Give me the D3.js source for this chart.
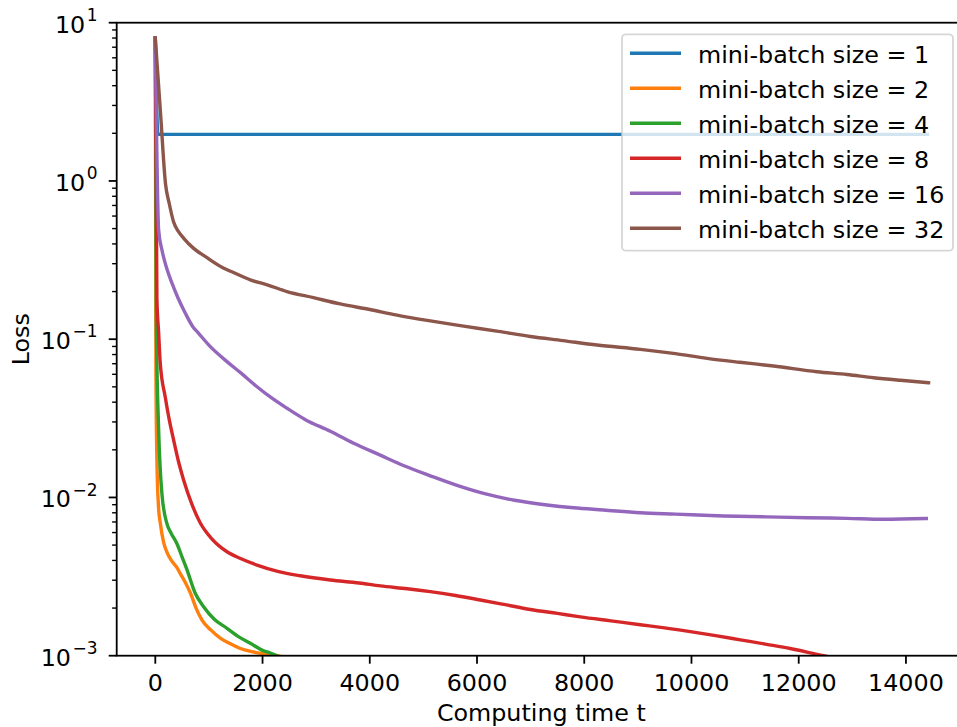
<!DOCTYPE html>
<html>
<head>
<meta charset="utf-8">
<script src="https://cdn.jsdelivr.net/npm/d3@7"></script>
<style>
  body { margin: 0; background: #fff; }
  text { font-family: "DejaVu Sans", sans-serif; fill: #000; }
</style>
</head>
<body>
<svg id="chart" width="957" height="727"></svg>
<script>
// series labels and colours (matplotlib tab10)
const labels = ['mini-batch size = 1', 'mini-batch size = 2', 'mini-batch size = 4',
  'mini-batch size = 8', 'mini-batch size = 16', 'mini-batch size = 32'];
const colors = ['#1f77b4', '#ff7f0e', '#2ca02c', '#d62728', '#9467bd', '#8c564b'];

// loss curves: [t, loss]
const size1 = [[0, 8.0], [50, 1.97], [14400, 1.97]];
const size2 = [[0, 8.0], [12, 0.06], [31, 0.0164], [62, 0.0085], [93, 0.0069], [155, 0.0052],
  [218, 0.0045], [300, 0.0040], [404, 0.0036], [466, 0.0033], [560, 0.0029], [653, 0.0025],
  [760, 0.0020], [871, 0.00168], [1040, 0.00145], [1212, 0.00129], [1400, 0.00119],
  [1585, 0.00111], [1800, 0.00106], [2000, 0.00103], [2270, 0.00100], [2500, 0.00096]];
const size4 = [[0, 8.0], [20, 0.12], [62, 0.027], [124, 0.0105], [218, 0.0068],
  [300, 0.0059], [404, 0.0051], [500, 0.0042], [590, 0.0035], [740, 0.0025], [901, 0.00204],
  [1100, 0.00170], [1337, 0.00149], [1550, 0.00132], [1772, 0.00120], [2000, 0.00108],
  [2145, 0.00104], [2400, 0.00095]];
const size8 = [[0, 8.0], [30, 0.18], [62, 0.11], [93, 0.07], [186, 0.043], [260, 0.031],
  [342, 0.023], [430, 0.017], [528, 0.0129], [680, 0.0091], [839, 0.0069], [1050, 0.0055],
  [1337, 0.00454], [1600, 0.0041], [1897, 0.00374], [2300, 0.0034], [2704, 0.0032],
  [3264, 0.00301], [3800, 0.00288], [4196, 0.00276], [4700, 0.00265], [5129, 0.00254],
  [5600, 0.00240], [6061, 0.00225], [6500, 0.00211], [6994, 0.00196], [7500, 0.00185],
  [7926, 0.00176], [8500, 0.00166], [9045, 0.00157], [9500, 0.00150], [9977, 0.00142],
  [10450, 0.00134], [10910, 0.00126], [11400, 0.00118], [11843, 0.00111], [12464, 0.00100],
  [13400, 0.00088], [14400, 0.00078]];
const size16 = [[0, 8.0], [62, 0.49], [124, 0.366], [200, 0.29], [311, 0.226], [430, 0.18],
  [560, 0.146], [700, 0.12], [808, 0.109], [1026, 0.0897], [1337, 0.0722], [1600, 0.061],
  [1897, 0.0501], [2150, 0.043], [2456, 0.0366], [2800, 0.031], [3264, 0.0262], [3700, 0.022],
  [4196, 0.0185], [4650, 0.0158], [5129, 0.0137], [5600, 0.0120], [6123, 0.0106],
  [6700, 0.0096], [7305, 0.00896], [7800, 0.0086], [8361, 0.00833], [9045, 0.00801],
  [9700, 0.00785], [10599, 0.00764], [11400, 0.00754], [12153, 0.00745], [12900, 0.00738],
  [13583, 0.00728], [14380, 0.00736]];
const size32 = [[0, 8.0], [100, 2.6], [190, 0.96], [260, 0.72], [340, 0.552], [430, 0.48],
  [530, 0.434], [715, 0.375], [950, 0.33], [1243, 0.285], [1500, 0.26], [1772, 0.237],
  [2100, 0.22], [2456, 0.200], [2950, 0.183], [3450, 0.167], [4000, 0.154], [4508, 0.142],
  [5100, 0.131], [5750, 0.121], [6400, 0.112], [6994, 0.104], [7600, 0.098], [8237, 0.0919],
  [9045, 0.0863], [9700, 0.081], [10289, 0.0757], [10900, 0.0715], [11532, 0.0677],
  [12340, 0.0623], [12900, 0.0598], [13397, 0.0571], [13900, 0.0550], [14422, 0.0531]];
const series = [size1, size2, size4, size8, size16, size32];

const xTicks = [0, 2000, 4000, 6000, 8000, 10000, 12000, 14000];
const yTicks = [-3, -2, -1, 0, 1]; // powers of ten

const svg = d3.select('#chart');

// axes box (right spine sits just past the image edge, like the original crop)
const axL = 116.7, axR = 966, axT = 22.7, axB = 655.7;
const fs = 23.8;

const x = d3.scaleLinear().domain([-720, 15120]).range([axL, axR]);
const y = d3.scaleLog().domain([1e-3, 10]).range([axB, axT]);

svg.append('defs').append('clipPath').attr('id', 'clip')
  .append('rect').attr('x', axL).attr('y', axT)
  .attr('width', axR - axL).attr('height', axB - axT);

// curves
const line = d3.line().x(d => x(d[0])).y(d => y(d[1])).curve(d3.curveMonotoneX);
const plot = svg.append('g').attr('clip-path', 'url(#clip)');
series.forEach((s, i) => {
  plot.append('path')
    .attr('d', line(s))
    .attr('fill', 'none')
    .attr('stroke', colors[i])
    .attr('stroke-width', 3.4)
    .attr('stroke-linejoin', 'round')
    .attr('stroke-linecap', 'square');
});

// spines
svg.append('rect')
  .attr('x', axL).attr('y', axT)
  .attr('width', axR - axL).attr('height', axB - axT)
  .attr('fill', 'none').attr('stroke', '#000').attr('stroke-width', 1.8);

// x axis
const xg = svg.append('g');
xTicks.forEach(t => {
  xg.append('line')
    .attr('x1', x(t)).attr('x2', x(t))
    .attr('y1', axB).attr('y2', axB + 8)
    .attr('stroke', '#000').attr('stroke-width', 1.8);
  xg.append('text')
    .attr('x', x(t)).attr('y', 691)
    .attr('text-anchor', 'middle')
    .attr('font-size', fs)
    .text(t);
});
svg.append('text')
  .attr('x', (axL + axR) / 2).attr('y', 720.5)
  .attr('text-anchor', 'middle').attr('font-size', fs)
  .text('Computing time t');

// y axis: major + minor ticks
const yg = svg.append('g');
yTicks.forEach(p => {
  const yy = y(Math.pow(10, p));
  yg.append('line')
    .attr('x1', axL - 8).attr('x2', axL)
    .attr('y1', yy).attr('y2', yy)
    .attr('stroke', '#000').attr('stroke-width', 1.8);
  const lab = yg.append('text')
    .attr('x', 97.5).attr('y', yy + 9.9)
    .attr('text-anchor', 'end')
    .attr('font-size', fs);
  lab.append('tspan').text('10');
  lab.append('tspan')
    .attr('font-size', 17)
    .attr('dy', -11.8)
    .attr('dx', 1.5)
    .text(p < 0 ? '\u2212' + (-p) : String(p));
  if (p < 1) {
    for (let m = 2; m <= 9; m++) {
      const ym = y(m * Math.pow(10, p));
      yg.append('line')
        .attr('x1', axL - 4.6).attr('x2', axL)
        .attr('y1', ym).attr('y2', ym)
        .attr('stroke', '#000').attr('stroke-width', 1.4);
    }
  }
});
svg.append('text')
  .attr('transform', `translate(29.3,${(axT + axB) / 2}) rotate(-90)`)
  .attr('text-anchor', 'middle').attr('font-size', fs)
  .text('Loss');

// legend
const lg = svg.append('g');
lg.append('rect')
  .attr('x', 622).attr('y', 34.3)
  .attr('width', 331).attr('height', 216.4)
  .attr('rx', 4).attr('ry', 4)
  .attr('fill', '#fff').attr('fill-opacity', 0.8)
  .attr('stroke', '#cccccc').attr('stroke-opacity', 0.8).attr('stroke-width', 1.8);
labels.forEach((lab, i) => {
  const ly = 53.3 + i * 35;
  lg.append('line')
    .attr('x1', 630).attr('x2', 681)
    .attr('y1', ly).attr('y2', ly)
    .attr('stroke', colors[i]).attr('stroke-width', 3.4);
  lg.append('text')
    .attr('x', 698).attr('y', ly + 9.8)
    .attr('font-size', fs)
    .text(lab);
});
</script>
</body>
</html>
